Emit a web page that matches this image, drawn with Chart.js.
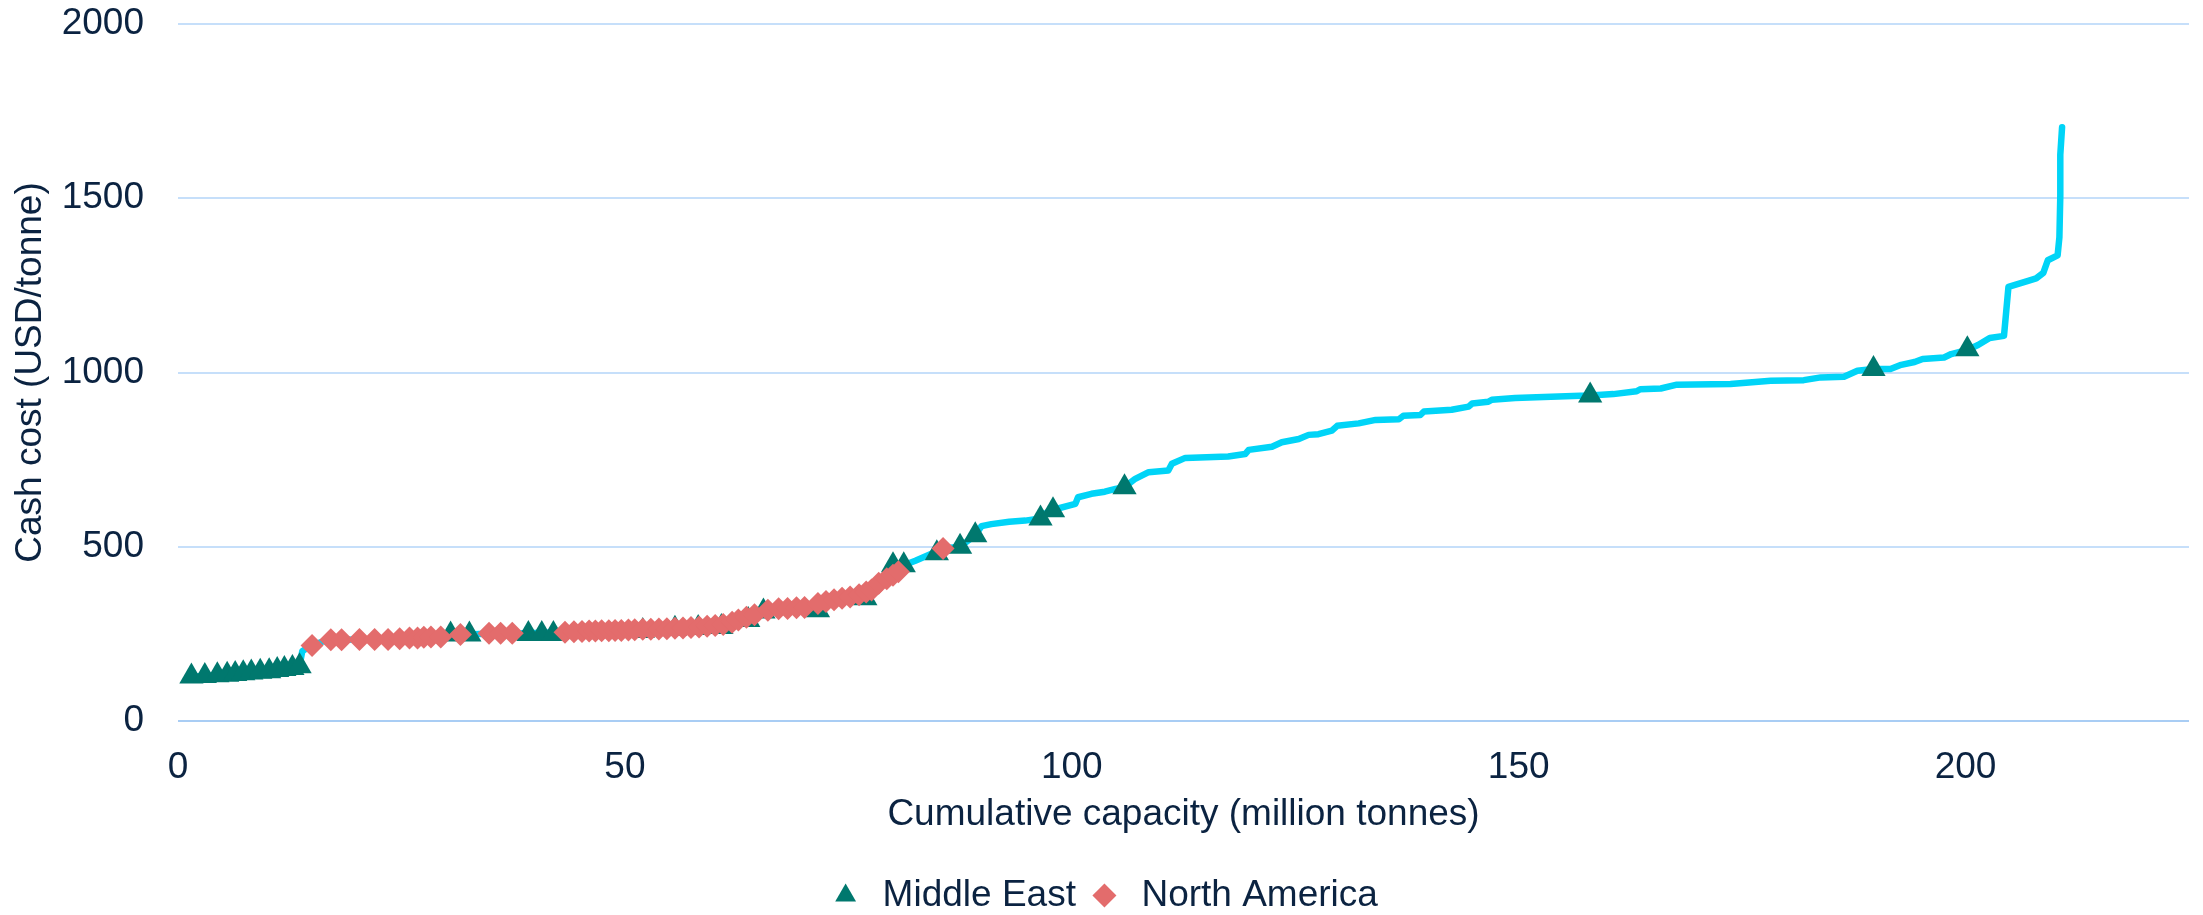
<!DOCTYPE html>
<html>
<head>
<meta charset="utf-8">
<script src="https://cdn.jsdelivr.net/npm/chart.js@4.4.1/dist/chart.umd.min.js"></script>
<style>
  html, body { margin: 0; padding: 0; background: #ffffff; overflow: hidden; }
  #wrap { width: 2203px; height: 915px; position: relative; }
</style>
</head>
<body>
<div id="wrap"><canvas id="costCurve" width="2203" height="915"></canvas></div>
<script>
// Cost curve (cumulative capacity vs cash cost)
const lineX = [1.2, 3.0, 4.4, 5.5, 6.4, 7.3, 8.2, 9.2, 10.2, 11.1, 11.9, 12.8, 13.6, 13.9, 14.6, 15.0, 16.2, 17.1, 18.3, 20.3,
  22.0, 23.5, 24.8, 25.9, 26.8, 27.5, 28.3, 29.4, 30.5, 31.6, 32.6, 34.8, 36.1, 37.4, 39.2, 40.7, 42.0, 43.3, 45, 48,
  51, 53, 55, 57, 59, 61, 62.7, 64, 65.5, 67, 69, 70, 71.6, 73, 75, 76.9, 77.6, 78.4, 79.5, 80.6,
  81.2, 82.5, 84.3, 85.6, 87.5, 89.2, 89.9, 91, 93, 94.8, 96.1, 97.6, 100.4, 100.7, 102.2, 103.7, 104.9, 105.9, 107.1, 108.6,
  110.8, 111.2, 112.7, 117.5, 119.4, 119.8, 122.4, 123.5, 125.4, 126.5, 127.6, 129.1, 129.7, 132.1, 134, 136.6, 137.1, 139, 139.4, 142.5,
  144.4, 144.8, 146.6, 147, 149.6, 152, 156.9, 158, 160.6, 163.2, 163.6, 165.9, 167.7, 173.7, 178.2, 181.9, 183.8, 186.4, 187.9, 189.7,
  191.6, 192.8, 194.3, 195.2, 197.6, 198.4, 200.2, 201.4, 202.7, 204.3, 204.8, 207, 207.9, 208.7, 209.2, 210.3, 210.5, 210.6, 210.6, 210.8];
const lineY = [128, 129, 131, 133, 135, 137, 139, 141, 143, 146, 149, 152, 157, 200, 212, 217, 228, 233, 233, 234,
  234, 235, 236, 238, 238, 240, 241, 242, 246, 248, 248, 251, 252, 252, 252, 253, 254, 255, 257, 259,
  261, 263, 265, 268, 272, 277, 288, 298, 309, 320, 323, 325, 335, 343, 355, 362, 376, 395, 410, 428,
  447, 460, 480, 495, 500, 533, 559, 565, 572, 575, 580, 604, 623, 642, 652, 658, 666, 671, 695, 714,
  719, 738, 755, 759, 766, 778, 787, 800, 809, 821, 823, 833, 847, 854, 864, 866, 876, 878, 888, 893,
  902, 911, 916, 922, 927, 929, 933, 934, 938, 946, 952, 954, 965, 967, 976, 978, 986, 988, 1005, 1010,
  1010, 1022, 1030, 1039, 1043, 1053, 1065, 1079, 1099, 1105, 1246, 1263, 1270, 1286, 1322, 1336, 1388, 1507, 1625, 1704];

const middleEastX = [1.5, 3.0, 4.4, 5.5, 6.4, 7.3, 8.2, 9.2, 10.2, 11.1, 11.9, 12.8, 13.6,
  30.5, 32.6, 39.2, 40.7, 42.0, 52, 55.6, 58.2, 60.8, 63.8, 65.5, 71.6, 76.9,
  80.0, 81.2, 84.9, 87.5, 89.2, 96.5, 97.9, 105.9, 158, 189.7, 200.2];
const middleEastY = [128, 129, 131, 133, 135, 137, 139, 141, 143, 146, 149, 152, 157,
  248, 248, 250, 250, 250, 258, 265, 267, 270, 290, 314, 318, 352,
  447, 447, 481, 500, 533, 581, 605, 671, 934, 1010, 1067];

const northAmericaX = [15.0, 17.1, 18.3, 20.3, 22.0, 23.5, 24.8, 25.9, 26.8, 27.5, 28.3, 29.4, 31.6, 34.8, 36.1, 37.4,
  43.3, 44.3, 45.2, 46.0, 46.7, 47.4, 48.2, 48.9, 49.6, 50.4, 51.1, 52.0, 52.9, 53.8, 54.7, 55.6, 56.5, 57.4, 58.3, 59.2,
  60.1, 61.0, 62.0, 62.7, 63.6, 64.5, 66.0, 67.2, 68.2, 69.2, 70.1, 71.6, 72.5, 73.4, 74.3, 75.2, 76.2, 77.0, 77.6,
  78.4, 79.3, 80.0, 80.6, 85.6];
const northAmericaY = [217, 233, 233, 234, 234, 234, 236, 238, 238, 240, 241, 241, 248, 252, 252, 252,
  255, 256, 257, 258, 258, 259, 259, 260, 260, 261, 262, 263, 263, 264, 265, 266, 267, 268, 270, 272,
  274, 277, 283, 290, 298, 305, 318, 322, 323, 325, 326, 337, 343, 348, 352, 356, 362, 370, 376,
  395, 408, 418, 428, 495];

const xTicks = [0, 50, 100, 150, 200];
const yTicks = [0, 500, 1000, 1500, 2000];

const toPoints = (xs, ys) => xs.map((x, i) => ({ x: x, y: ys[i] }));

const textColor = "#0b2341";
const font = "'Liberation Sans', Arial, sans-serif";
const fontSize = 37;

// nudge the legend down a little, as in the original
const legendShift = {
    id: "legendShift",
    afterLayout(chart) {
        chart.legend.top += 9;
        chart.legend.bottom += 9;
    }
};

const ctx = document.getElementById("costCurve").getContext("2d");

new Chart(ctx, {
    type: "scatter",
    data: {
        datasets: [
            {
                label: "Middle East",
                data: toPoints(middleEastX, middleEastY),
                pointStyle: "triangle",
                pointRadius: 14,
                backgroundColor: "#00786e",
                borderColor: "#00786e",
                borderWidth: 0,
                order: 1
            },
            {
                label: "North America",
                data: toPoints(northAmericaX, northAmericaY),
                pointStyle: "rectRot",
                pointRadius: 11.5,
                backgroundColor: "#e36c6c",
                borderColor: "#e36c6c",
                borderWidth: 0,
                order: 0
            },
            {
                label: "Cost curve",
                data: toPoints(lineX, lineY),
                showLine: true,
                pointRadius: 0,
                borderColor: "#00d4f7",
                backgroundColor: "#00d4f7",
                borderWidth: 6.5,
                borderJoinStyle: "round",
                borderCapStyle: "round",
                tension: 0,
                order: 2
            }
        ]
    },
    plugins: [legendShift],
    options: {
        responsive: false,
        animation: false,
        devicePixelRatio: 1,
        layout: { padding: { left: 9, right: 7, top: 24, bottom: 0 } },
        plugins: {
            tooltip: { enabled: false },
            legend: {
                position: "bottom",
                labels: {
                    filter: (item) => item.text !== "Cost curve",
                    sort: (a, b) => a.datasetIndex - b.datasetIndex,
                    usePointStyle: true,
                    boxHeight: 17,
                    padding: 10,
                    color: textColor,
                    font: { family: font, size: fontSize }
                }
            }
        },
        scales: {
            x: {
                type: "linear",
                min: 0,
                max: 225,
                afterBuildTicks: (scale) => {
                    scale.ticks = xTicks.map((v) => ({ value: v }));
                },
                afterFit: (scale) => {
                    scale.height = 137;
                    scale.paddingLeft = 0;
                    scale.paddingRight = 0;
                },
                grid: { display: false, drawTicks: false },
                border: { display: false },
                ticks: {
                    padding: 25,
                    color: textColor,
                    font: { family: font, size: fontSize },
                    callback: (v) => String(v)
                },
                title: {
                    display: true,
                    text: "Cumulative capacity (million tonnes)",
                    color: textColor,
                    font: { family: font, size: fontSize },
                    padding: { top: 0, bottom: 21 }
                }
            },
            y: {
                type: "linear",
                min: 0,
                max: 2000,
                afterBuildTicks: (scale) => {
                    scale.ticks = yTicks.map((v) => ({ value: v }));
                },
                afterFit: (scale) => {
                    scale.width = 169;
                    scale.paddingTop = 0;
                    scale.paddingBottom = 0;
                },
                grid: {
                    color: (c) => c.tick && c.tick.value === 0 ? "#a9cdf4" : "#c6dffa",
                    lineWidth: 2,
                    drawTicks: false
                },
                border: { display: false },
                ticks: {
                    padding: 34,
                    color: textColor,
                    font: { family: font, size: fontSize },
                    callback: (v) => String(v)
                },
                title: {
                    display: true,
                    text: "Cash cost (USD/tonne)",
                    color: textColor,
                    font: { family: font, size: fontSize },
                    padding: 0
                }
            }
        }
    }
});
</script>
</body>
</html>
